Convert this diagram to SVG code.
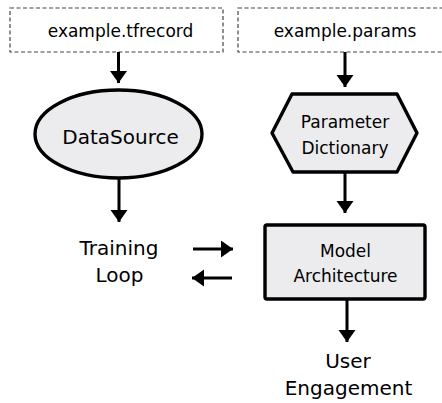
<svg xmlns="http://www.w3.org/2000/svg" width="442" height="403" viewBox="0 0 442 403">
  <style>
    .file { fill: #ffffff; stroke: #444444; stroke-width: 1.2; stroke-dasharray: 4 2.5; }
    .shape { fill: #ececee; stroke: #000000; stroke-width: 3.4; stroke-linejoin: round; }
    .lbl { font-family: "DejaVu Sans", Verdana, sans-serif; fill: #000000; text-anchor: middle; }
    .s16 { font-size: 17px; }
    .s20 { font-size: 20px; }
    .edge { stroke: #000000; stroke-width: 3; fill: none; }
  </style>
  <defs>
    <marker id="arrow" markerUnits="userSpaceOnUse" markerWidth="14" markerHeight="18" refX="12" refY="8.5" orient="auto">
      <path d="M0,0 L12,8.5 L0,17 Z" fill="#000000"/>
    </marker>
  </defs>

  <g id="tfrecord">
    <rect class="file" x="10" y="8" width="213" height="44"/>
    <text class="lbl s16" x="120.5" y="37">example.tfrecord</text>
  </g>

  <g id="params">
    <rect class="file" x="238" y="8" width="213" height="44"/>
    <text class="lbl s16" x="345" y="37">example.params</text>
  </g>

  <g id="datasource">
    <ellipse class="shape" cx="118.5" cy="134" rx="83.5" ry="44"/>
    <text class="lbl s20" x="120.5" y="144">DataSource</text>
  </g>

  <g id="paramdict">
    <polygon class="shape" points="292,94 397,94 417,133 397,172 293,172 272,133"/>
    <text class="lbl s16" x="345" y="128">Parameter</text>
    <text class="lbl s16" x="345" y="154">Dictionary</text>
  </g>

  <g id="training">
    <text class="lbl s20" x="119" y="255">Training</text>
    <text class="lbl s20" x="119.5" y="282">Loop</text>
  </g>

  <g id="model">
    <rect class="shape" x="265" y="225" width="160" height="74" rx="2"/>
    <text class="lbl s16" x="345.5" y="257">Model</text>
    <text class="lbl s16" x="345.5" y="282">Architecture</text>
  </g>

  <g id="engagement">
    <text class="lbl s20" x="348" y="368">User</text>
    <text class="lbl s20" x="348.5" y="395">Engagement</text>
  </g>

  <g id="connectors">
    <line class="edge" x1="118.5" y1="52" x2="118.5" y2="83" marker-end="url(#arrow)"/>
    <line class="edge" x1="345" y1="52" x2="345" y2="87" marker-end="url(#arrow)"/>
    <line class="edge" x1="119" y1="178" x2="119" y2="222" marker-end="url(#arrow)"/>
    <line class="edge" x1="345" y1="172" x2="345" y2="213" marker-end="url(#arrow)"/>
    <line class="edge" x1="347" y1="299" x2="347" y2="342" marker-end="url(#arrow)"/>
    <line class="edge" x1="193" y1="249" x2="233" y2="249" marker-end="url(#arrow)"/>
    <line class="edge" x1="232" y1="278" x2="192" y2="278" marker-end="url(#arrow)"/>
  </g>
</svg>
